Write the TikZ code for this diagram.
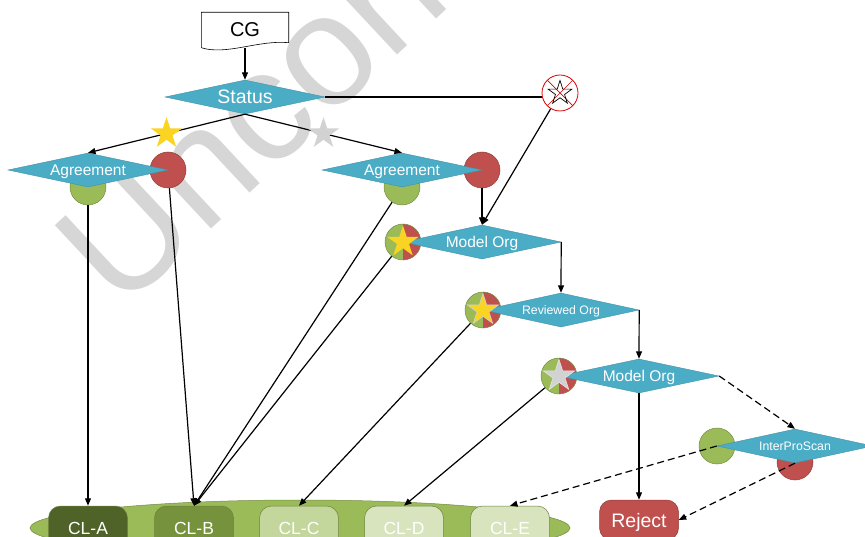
\documentclass[tikz,border=0pt]{standalone}
\usepackage{fontspec}
\setmainfont{Liberation Sans}
\usetikzlibrary{arrows.meta, shapes.geometric, positioning}
\definecolor{aqua}    {HTML}{4BACC6}
\definecolor{redc}    {HTML}{C0504D}
\definecolor{greenc}  {HTML}{9BBB59}
\definecolor{olive}   {HTML}{4F6228}
\definecolor{oliveb}  {HTML}{76923C}
\definecolor{lightc}  {HTML}{C3D69B}
\definecolor{paled}   {HTML}{D7E4BD}
\definecolor{staryel} {HTML}{FAD423}
\definecolor{stargray}{HTML}{D2D2D2}
\definecolor{wmgray}  {HTML}{D6D6D6}
\tikzset{
  dia/.style     = {diamond, fill=aqua, draw=aqua!85!black, line width=0.4pt,
                    inner sep=0pt, aspect=4.7, minimum width=158pt,
                    minimum height=34pt, text=white, text depth=0pt,
                    font=\fontsize{15.5}{16}\selectfont},
  dot/.style     = {circle, minimum size=36pt, inner sep=0pt, line width=0.5pt},
  gdot/.style    = {dot, fill=greenc, draw=greenc!75!black},
  rdot/.style    = {dot, fill=redc, draw=redc!75!black},
  mixdot/.style  = {dot, draw=greenc!75!black, path picture={
                      \fill[greenc] (path picture bounding box.south west)
                        rectangle (path picture bounding box.north);
                      \fill[redc] (path picture bounding box.south)
                        rectangle (path picture bounding box.north east);}},
  bigstar/.style = {star, star points=5, star point ratio=2.618,
                    inner sep=0pt, minimum size=33pt},
  ystar/.style   = {bigstar, fill=staryel},
  gstar/.style   = {bigstar, fill=stargray},
  clbox/.style   = {rectangle, rounded corners=12pt, minimum width=79pt,
                    minimum height=44pt, inner sep=0pt, line width=0.5pt,
                    draw=greenc!70!black, text=white, text depth=0pt,
                    font=\fontsize{17.5}{18}\selectfont},
  arr/.style     = {-{Triangle[length=7.5pt,width=6pt]}, line width=1.2pt, black},
  darr/.style    = {arr, dash pattern=on 7pt off 4pt},
  link/.style    = {line width=1.2pt, black},
  wmark/.style   = {anchor=base west, rotate=43, inner sep=0pt, text=wmgray,
                    font=\fontsize{158}{158}\selectfont},
}
\begin{document}
\begin{tikzpicture}[x=1pt, y=-1pt]
  \useasboundingbox (0,0) rectangle (865,537);

  % watermark
  \node[wmark] (wm) at (120,314) {Uncorrected};

  % outcome dots behind the decisions
  \node[rdot]   (r1) at (168,170) {};
  \node[gdot]   (g1) at (88,187) {};
  \node[rdot]   (r2) at (482,170) {};
  \node[gdot]   (g2) at (402,187) {};
  \node[mixdot] (m1) at (403,242) {};
  \node[mixdot] (m2) at (483,310) {};
  \node[mixdot] (m3) at (559,376) {};
  \node[gdot]   (gi) at (717,446) {};
  \node[rdot]   (ri) at (795,462) {};

  % decisions
  \node[dia, minimum width=160pt, font=\fontsize{19.5}{20}\selectfont]
    (status) at (245,97) {Status};
  \node[dia, minimum width=160pt] (agr1) at (88,170) {Agreement};
  \node[dia, minimum width=160pt] (agr2) at (402,170) {Agreement};
  \node[dia] (mo1) at (482,242) {Model Org};
  \node[dia, minimum width=156pt, font=\fontsize{12.3}{13}\selectfont]
    (rev) at (561,310) {Reviewed Org};
  \node[dia, minimum width=160pt] (mo2) at (639,376) {Model Org};
  \node[dia, minimum width=156pt, font=\fontsize{12.3}{13}\selectfont]
    (ips) at (795,446) {InterProScan};

  % stars on the mixed dots
  \node[ystar] (s1) at (m1) {};
  \node[ystar, draw=stargray, line width=0.6pt] (s2) at (m2) {};
  \node[gstar, draw=white!90!black, line width=0.6pt] (s3) at (m3) {};

  % input
  \node[minimum width=87pt, minimum height=35pt, inner sep=0pt,
        font=\fontsize{20}{20}\selectfont] (cg) at (245,30) {CG};
  \draw[line width=0.6pt] (cg.north west) -- (cg.north east)
    -- ([yshift=5pt]cg.south east)
    .. controls ([xshift=-30pt,yshift=8pt]cg.south east)
       and ([xshift=25pt,yshift=-8pt]cg.south west) .. (cg.south west)
    -- cycle;

  % crossed star
  \node[dot, fill=white, draw=red!85!black, line width=0.8pt,
        path picture={
          \draw[red!85!black, line width=0.7pt]
            (path picture bounding box.north west)
            -- (path picture bounding box.south east)
            (path picture bounding box.north east)
            -- (path picture bounding box.south west);}]
    (xs) at (560,93) {};
  \node[star, star points=5, star point ratio=2.618, inner sep=0pt,
        minimum size=25pt, draw=black, line width=0.7pt] (xss) at (xs) {};

  % classes
  \node[ellipse, minimum width=540pt, minimum height=56pt, fill=greenc,
        draw=greenc!75!black, line width=0.5pt] (grp) at (300,528) {};
  \node[clbox, fill=olive]  (cla) at (88,528)  {CL-A};
  \node[clbox, fill=oliveb] (clb) at (194,528) {CL-B};
  \node[clbox, fill=lightc] (clc) at (299,528) {CL-C};
  \node[clbox, fill=paled]  (cld) at (404,528) {CL-D};
  \node[clbox, fill=paled]  (cle) at (510,528) {CL-E};
  \node[clbox, fill=redc, draw=redc!75!black, minimum height=40pt,
        font=\fontsize{19.5}{20}\selectfont] (rej) at (639,520) {Reject};

  % flow
  \draw[arr] (cg.south) -- (status.north);
  \draw[link] (status.east) -- (status.east -| xs.west);
  \draw[arr] (status.south) -- node[ystar] (sy) {} (agr1.north);
  \draw[arr] (status.south) -- node[gstar] (sg) {} (agr2.north);
  \draw[arr] (g1) -- (cla.north);
  \draw[arr] (r1) -- (clb.north);
  \draw[arr] (g2) -- (clb.north);
  \draw[arr] (m1) -- (clb.north);
  \draw[arr] (r2) -- (mo1.north);
  \draw[arr] (xs) -- (mo1.north);
  \draw[arr] (mo1.east) -- (rev.north);
  \draw[arr] (m2) -- (clc.north);
  \draw[arr] (rev.east) -- (mo2.north);
  \draw[arr] (m3) -- (cld.north);
  \draw[arr] (mo2.south) -- (rej.north);

  % InterProScan fallback
  \draw[darr] (mo2.east) -- (ips.north);
  \draw[darr] (ips.west) -- (cle.north);
  \draw[darr] (ips.south) -- (rej.east);

\end{tikzpicture}
\end{document}
